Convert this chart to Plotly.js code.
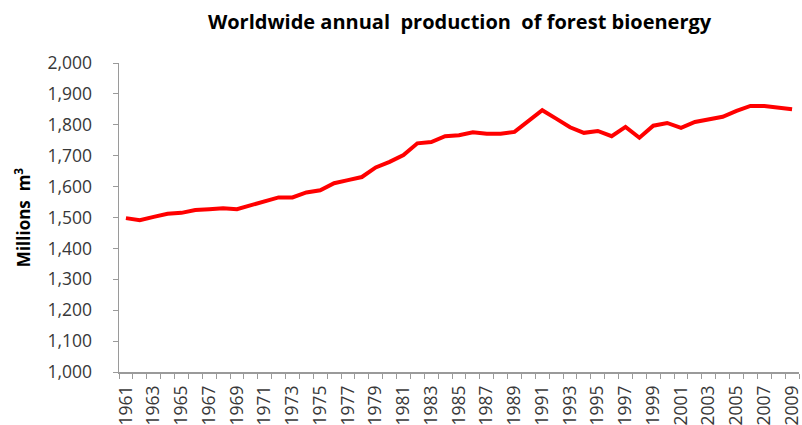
<!DOCTYPE html>
<html>
<head>
<meta charset="utf-8">
<script src="https://cdn.plot.ly/plotly-3.0.1.min.js"></script>
<style>
  html, body { margin: 0; padding: 0; background: #ffffff; }
  #chart { width: 802px; height: 425px; }
</style>
</head>
<body>
<div id="chart"></div>
<script>
// Worldwide annual production of forest bioenergy, millions of m3
const years = [
  1961, 1962, 1963, 1964, 1965, 1966, 1967, 1968, 1969, 1970,
  1971, 1972, 1973, 1974, 1975, 1976, 1977, 1978, 1979, 1980,
  1981, 1982, 1983, 1984, 1985, 1986, 1987, 1988, 1989, 1990,
  1991, 1992, 1993, 1994, 1995, 1996, 1997, 1998, 1999, 2000,
  2001, 2002, 2003, 2004, 2005, 2006, 2007, 2008, 2009
];
const production = [
  1498, 1491, 1502, 1512, 1515, 1524, 1527, 1530, 1527, 1540,
  1550, 1565, 1565, 1581, 1588, 1611, 1621, 1631, 1662, 1680,
  1702, 1740, 1744, 1763, 1766, 1776, 1771, 1771, 1777, 1813,
  1847, 1820, 1792, 1774, 1780, 1763, 1793, 1758, 1797, 1806,
  1790, 1809, 1816, 1826, 1845, 1861, 1861, 1854, 1850
];
const yTicks = [1000, 1100, 1200, 1300, 1400, 1500, 1600, 1700, 1800, 1900, 2000];
const xLabelYears = years.filter((y, i) => i % 2 === 0);

const tickFont = { family: 'Open Sans, sans-serif', size: 17.5, color: '#383838' };

const trace = {
  x: years,
  y: production,
  type: 'scatter',
  mode: 'lines',
  line: { color: '#ff0000', width: 4 },
  hoverinfo: 'x+y'
};

const layout = {
  width: 802,
  height: 425,
  paper_bgcolor: '#ffffff',
  plot_bgcolor: '#ffffff',
  margin: { l: 119, r: 3, t: 63, b: 53 },
  showlegend: false,
  title: {
    text: 'Worldwide annual  production  of forest bioenergy',
    font: { family: 'Open Sans, sans-serif', size: 20, color: '#000000', weight: 'bold' },
    x: 0.573, xanchor: 'center',
    y: 0.948, yanchor: 'middle'
  },
  xaxis: {
    range: [1960.5, 2009.5],
    tickmode: 'array',
    tickvals: xLabelYears,
    ticktext: xLabelYears.map(String),
    tickangle: -90,
    ticks: '',
    tickfont: tickFont,
    ticklabelstandoff: 5,
    ticklabeloverflow: 'allow',
    showgrid: false,
    zeroline: false,
    showline: true,
    linecolor: '#9a9a9a',
    linewidth: 1.5,
    minor: {
      tickmode: 'linear',
      tick0: 1960.5,
      dtick: 1,
      ticks: 'outside',
      ticklen: 5,
      tickcolor: '#9a9a9a',
      tickwidth: 1,
      showgrid: false
    }
  },
  yaxis: {
    range: [1000, 2000],
    tickmode: 'array',
    tickvals: yTicks,
    tickformat: ',d',
    ticks: 'outside',
    ticklen: 5,
    tickcolor: '#9a9a9a',
    tickwidth: 1,
    tickfont: tickFont,
    ticklabelstandoff: 17,
    showgrid: false,
    zeroline: false,
    showline: true,
    linecolor: '#9a9a9a',
    linewidth: 1.5,
    title: {
      text: 'Millions  m<sup>3</sup>',
      font: { family: 'Open Sans, sans-serif', size: 17, color: '#000000', weight: 'bold' },
      standoff: 12
    }
  }
};

Plotly.newPlot('chart', [trace], layout, { displayModeBar: false, staticPlot: true });
</script>
</body>
</html>
